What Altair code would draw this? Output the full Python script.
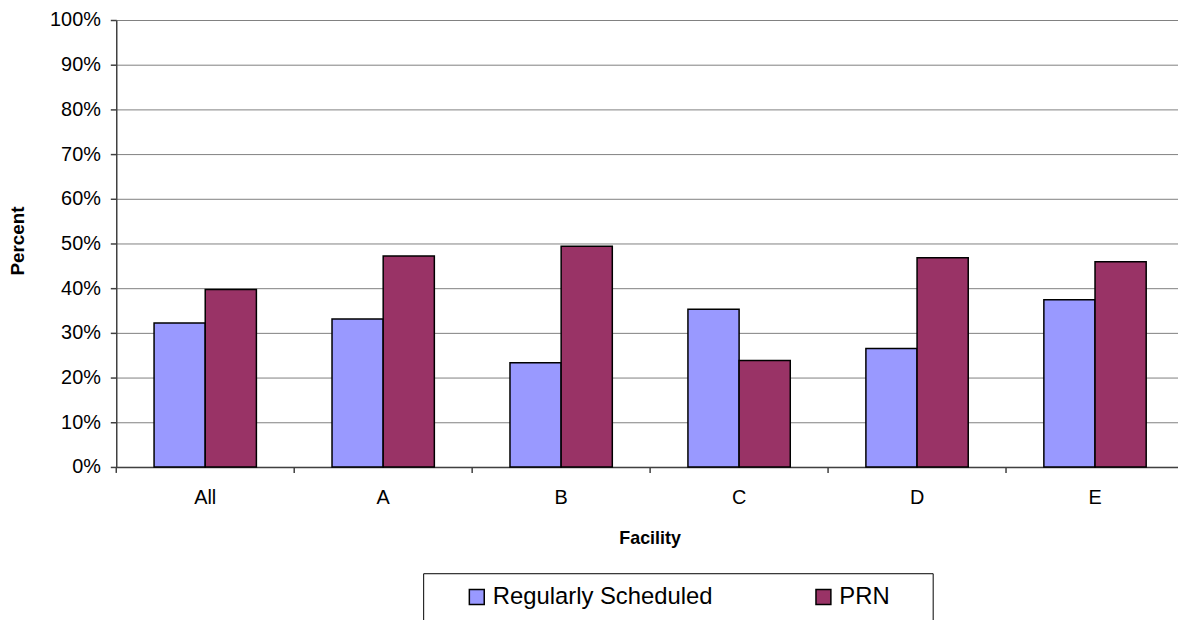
import altair as alt
import pandas as pd

facilities = ["All", "A", "B", "C", "D", "E"]
regular = [32.2, 33.1, 23.3, 35.3, 26.5, 37.4]
prn = [39.7, 47.2, 49.4, 23.8, 46.8, 45.9]
series = ["Regularly Scheduled", "PRN"]
colors = ["#9999FF", "#993366"]
y_ticks = [0, 0.1, 0.2, 0.3, 0.4, 0.5, 0.6, 0.7, 0.8, 0.9, 1.0]

rows = []
for f, r, p in zip(facilities, regular, prn):
    rows.append({"Facility": f, "Series": series[0], "Value": r / 100})
    rows.append({"Facility": f, "Series": series[1], "Value": p / 100})
df = pd.DataFrame(rows)
bounds = pd.DataFrame({"b": list(range(len(facilities)))})

W, H = 1069, 450
STEP = 179.17
FONT = "Liberation Sans"
AX = "#404040"

bars = alt.Chart(df).mark_bar(stroke="black", strokeWidth=1.5).encode(
    x=alt.X("Facility:N", sort=facilities,
            scale=alt.Scale(paddingInner=0.425, paddingOuter=0.1956, align=0.543),
            axis=alt.Axis(title="Facility", ticks=False, labelAngle=0, labelPadding=21,
                          labelFontSize=20, labelFont=FONT, labelColor="black",
                          domainColor=AX, domainWidth=1.5, grid=False,
                          titleFont=FONT, titleFontSize=18, titleFontWeight="bold",
                          titleColor="black", titleX=537, titleY=72, titleBaseline="middle")),
    xOffset=alt.XOffset("Series:N", sort=series),
    y=alt.Y("Value:Q", scale=alt.Scale(domain=[0, 1], nice=False),
            axis=alt.Axis(format="%", values=y_ticks, title="Percent",
                          labelFont=FONT, labelFontSize=20, labelColor="black", labelPadding=10,
                          tickSize=6, tickColor=AX, tickWidth=1.5,
                          domainColor=AX, domainWidth=1.5,
                          grid=True, gridColor="#808080", gridWidth=1,
                          titleFont=FONT, titleFontSize=19, titleFontWeight="bold",
                          titleColor="black", titleX=-99, titleY=222,
                          titleAlign="center", titleBaseline="middle")),
    color=alt.Color("Series:N", sort=series,
                    scale=alt.Scale(domain=series, range=colors),
                    legend=alt.Legend(title=" ", titleOrient="right", titlePadding=31,
                                      titleFontSize=10,
                                      orient="none", legendX=309, legendY=557,
                                      direction="horizontal", strokeColor="black",
                                      fillColor="white", padding=12,
                                      symbolType="square", symbolSize=225,
                                      symbolStrokeColor="black", symbolStrokeWidth=1.5,
                                      labelFont=FONT, labelFontSize=24, labelColor="black",
                                      labelLimit=400,
                                      columnPadding=69, symbolOffset=30, labelOffset=4)),
)

ticks = alt.Chart(bounds).mark_rule(color=AX, strokeWidth=1.5).encode(
    x=alt.X("b:Q", scale=alt.Scale(domain=[0, W / STEP], nice=False, zero=False), axis=None),
    y=alt.value(H),
    y2=alt.value(H + 6),
)

chart = alt.layer(bars, ticks).resolve_scale(x="independent").properties(
    width=W, height=H, autosize="none",
    padding={"left": 109, "top": 10, "right": 0, "bottom": 152},
    background="white",
).configure_view(stroke=None)

chart.save("out.html", embed_options={"renderer": "svg", "actions": False})
